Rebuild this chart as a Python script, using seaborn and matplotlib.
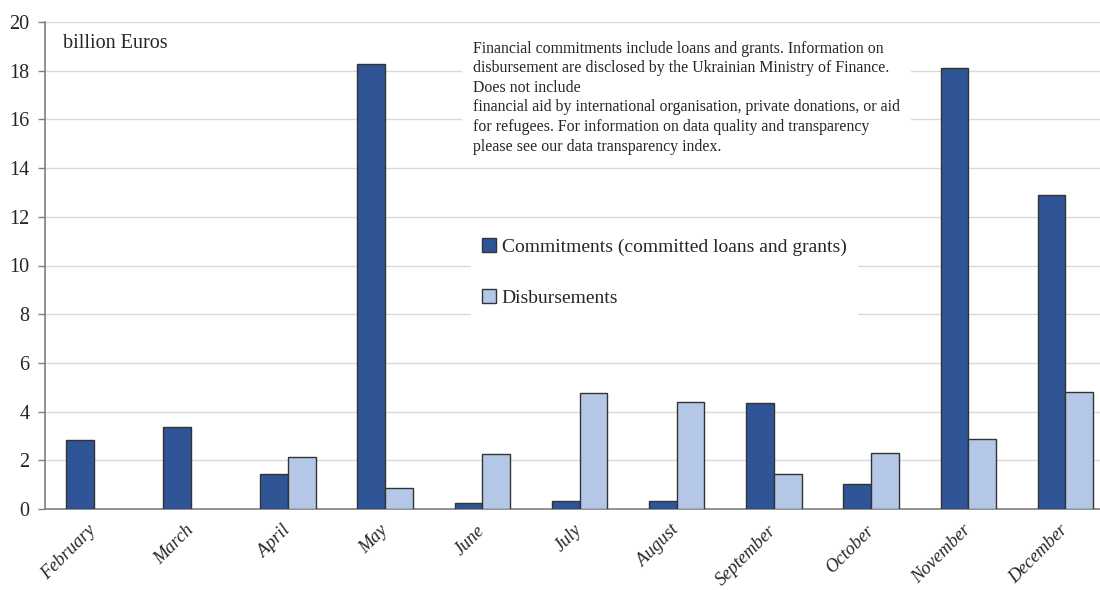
import matplotlib
matplotlib.use("Agg")
import matplotlib.pyplot as plt
import seaborn as sns
import pandas as pd
import numpy as np

months = ["February", "March", "April", "May", "June", "July", "August",
          "September", "October", "November", "December"]
commitments = [2.83, 3.38, 1.43, 18.28, 0.25, 0.34, 0.34, 4.37, 1.01, 18.11, 12.9]
disbursements = [np.nan, np.nan, 2.15, 0.87, 2.26, 4.76, 4.39, 1.43, 2.31, 2.89, 4.8]
series_names = ["Commitments (committed loans and grants)", "Disbursements"]
colors = ["#2F5597", "#B4C7E7"]
y_ticks = [0, 2, 4, 6, 8, 10, 12, 14, 16, 18, 20]
note = ("Financial commitments include loans and grants. Information on\n"
        "disbursement are disclosed by the Ukrainian Ministry of Finance.\n"
        "Does not include\n"
        "financial aid by international organisation, private donations, or aid\n"
        "for refugees. For information on data quality and transparency\n"
        "please see our data transparency index.")
unit_label = "billion Euros"

df = pd.DataFrame({
    "month": months * 2,
    "value": commitments + disbursements,
    "series": [series_names[0]] * len(months) + [series_names[1]] * len(months),
})

sns.set_style("white")
plt.rcParams["font.family"] = ["Liberation Serif", "DejaVu Serif"]

fig = plt.figure(figsize=(11, 5.9), dpi=100)
ax = fig.add_axes([45 / 1100, 81 / 590, 1069 / 1100, 487 / 590])

sns.barplot(data=df, x="month", y="value", hue="series", order=months,
            hue_order=series_names, palette=colors, saturation=1,
            width=0.57, gap=0, edgecolor="#333333", linewidth=1.0,
            ax=ax, zorder=3)

ax.set_ylim(0, 20)
ax.set_xlim(-0.5, len(months) - 0.5)
ax.set_yticks(y_ticks)
ax.set_yticklabels([str(t) for t in y_ticks], fontsize=14.5)
ax.grid(axis="y", color="#d9d9d9", linewidth=1.0, zorder=0)
ax.set_axisbelow(True)
ax.set_xlabel("")
ax.set_ylabel("")

for s in ["top", "right"]:
    ax.spines[s].set_visible(False)
for s in ["left", "bottom"]:
    ax.spines[s].set_color("#7f7f7f")
    ax.spines[s].set_linewidth(1.2)

ax.tick_params(axis="y", left=True, length=5, width=1, color="#7f7f7f", pad=6)
ax.tick_params(axis="x", bottom=False, pad=10)
for lab in ax.get_xticklabels():
    lab.set_rotation(45)
    lab.set_ha("right")
    lab.set_va("center")
    lab.set_rotation_mode("anchor")
    lab.set_fontstyle("italic")
    lab.set_fontsize(13.2)

ax.text(0.017, 0.955, unit_label, transform=ax.transAxes, fontsize=14.5,
        ha="left", va="center")

ax.text(0.4, 0.962, note, transform=ax.transAxes, fontsize=11.4,
        ha="left", va="top", linespacing=1.3, zorder=5,
        bbox=dict(facecolor="white", edgecolor="none", pad=8))

leg = ax.legend(loc="upper left", bbox_to_anchor=(0.389, 0.6), fontsize=14,
                frameon=True, facecolor="white", edgecolor="none", framealpha=1,
                handlelength=0.7, handleheight=0.7, handletextpad=0.3,
                labelspacing=1.7, borderpad=0.6, fancybox=False)
leg.set_zorder(5)

fig.savefig("out.png", dpi=100)
